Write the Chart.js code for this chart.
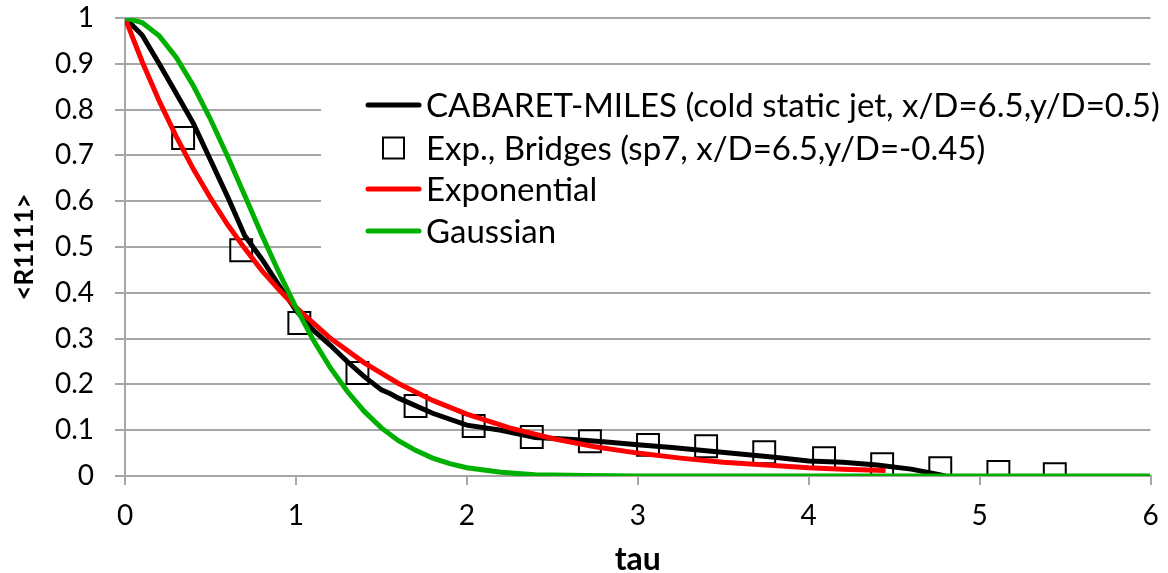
<!DOCTYPE html>
<html>
<head>
<meta charset="utf-8">
<script src="https://cdn.jsdelivr.net/npm/chart.js@4/dist/chart.umd.min.js"></script>
<style>
html,body{margin:0;padding:0;background:#fff;}
#wrap{width:1168px;height:573px;position:relative;}
</style>
</head>
<body>
<div id="wrap"><canvas id="c" width="1168" height="573"></canvas></div>
<script>
// ---- data ----
const seriesNames = [
  "CABARET-MILES (cold static jet, x/D=6.5,y/D=0.5)",
  "Exp., Bridges (sp7, x/D=6.5,y/D=-0.45)",
  "Exponential",
  "Gaussian"
];
const cabaretTau = [0,0.1,0.2,0.3,0.4,0.5,0.6,0.7,0.8,0.9,1.0,1.1,1.2,1.3,1.4,1.5,1.55,1.6,1.8,2.0,2.2,2.4,2.6,2.8,3.0,3.2,3.4,3.6,3.8,4.0,4.2,4.4,4.6,4.75,4.8];
const cabaretVal = [1,0.963,0.900,0.835,0.77,0.69,0.61,0.525,0.474,0.417,0.362,0.319,0.286,0.25,0.217,0.188,0.18,0.17,0.137,0.111,0.10,0.084,0.080,0.075,0.068,0.062,0.055,0.048,0.041,0.033,0.030,0.024,0.015,0.004,0];
const expTau = [0.34,0.68,1.02,1.36,1.70,2.04,2.38,2.72,3.06,3.40,3.74,4.09,4.43,4.77,5.11,5.44];
const expVal = [0.738,0.493,0.334,0.225,0.153,0.109,0.085,0.076,0.068,0.065,0.052,0.039,0.026,0.017,0.009,0.004];
const exponTau = [0,0.1,0.2,0.3,0.4,0.5,0.6,0.7,0.8,0.9,1.0,1.2,1.4,1.6,1.8,2.0,2.25,2.5,2.75,3.0,3.25,3.5,3.75,4.0,4.2,4.45];
const exponVal = [1,0.905,0.819,0.741,0.670,0.607,0.549,0.497,0.449,0.407,0.368,0.301,0.247,0.202,0.165,0.135,0.105,0.082,0.064,0.050,0.039,0.030,0.024,0.018,0.015,0.012];
const gaussTau = [0,0.1,0.2,0.3,0.4,0.5,0.6,0.7,0.8,0.9,1.0,1.1,1.2,1.3,1.4,1.5,1.6,1.7,1.8,1.9,2.0,2.2,2.4,2.7,3.0,4.0,5.0,6.0];
const gaussVal = [1,0.990,0.961,0.914,0.852,0.779,0.698,0.613,0.527,0.445,0.368,0.298,0.237,0.185,0.141,0.105,0.077,0.056,0.039,0.027,0.018,0.008,0.003,0.001,0,0,0,0];
const xTicks = [0,1,2,3,4,5,6];
const yTicks = [0,0.1,0.2,0.3,0.4,0.5,0.6,0.7,0.8,0.9,1];
const xTitle = "tau";
const yTitle = "<R1111>";

const toPts = (xs, ys) => xs.map((x, i) => ({x: x, y: ys[i]}));
const FONT = "Lato, 'Open Sans', sans-serif";

const legendPlugin = {
  id: 'insideLegend',
  beforeDatasetsDraw(chart) {
    const ctx = chart.ctx;
    ctx.save();
    ctx.fillStyle = '#ffffff';
    ctx.fillRect(321, 84, 847, 180);
    ctx.restore();
  },
  afterDraw(chart) {
    const ctx = chart.ctx;
    const rows = [105, 148, 189, 231];
    const ds = chart.data.datasets;
    ctx.save();
    ctx.font = "33px " + FONT;
    ctx.textBaseline = 'middle';
    ctx.fillStyle = '#000';
    ds.forEach((d, i) => {
      const y = rows[i];
      if (d.showLine) {
        ctx.strokeStyle = d.borderColor;
        ctx.lineWidth = 5;
        ctx.lineCap = 'round';
        ctx.beginPath();
        ctx.moveTo(368, y);
        ctx.lineTo(419, y);
        ctx.stroke();
      } else {
        ctx.strokeStyle = '#000';
        ctx.lineWidth = 2;
        ctx.strokeRect(383, y - 10.5, 21, 21);
      }
      ctx.fillText(d.label, 426, y + 1);
    });
    ctx.restore();
  }
};

new Chart(document.getElementById('c'), {
  type: 'scatter',
  data: {
    datasets: [
      {label: seriesNames[0], data: toPts(cabaretTau, cabaretVal), showLine: true, borderColor: '#000000', borderWidth: 5, pointRadius: 0, order: 3, tension: 0},
      {label: seriesNames[1], data: toPts(expTau, expVal), showLine: false, pointStyle: 'rect', pointRadius: 15.5, borderColor: '#000000', backgroundColor: 'rgba(0,0,0,0)', pointBorderWidth: 2, order: 2},
      {label: seriesNames[2], data: toPts(exponTau, exponVal), showLine: true, borderColor: '#ff0000', borderWidth: 5, pointRadius: 0, order: 1, tension: 0},
      {label: seriesNames[3], data: toPts(gaussTau, gaussVal), showLine: true, borderColor: '#00b000', borderWidth: 5, pointRadius: 0, order: 0, tension: 0}
    ]
  },
  options: {
    responsive: false,
    animation: false,
    devicePixelRatio: 1,
    layout: {padding: {top: 18, right: 16, left: 0, bottom: -6}},
    plugins: {legend: {display: false}, tooltip: {enabled: false}},
    scales: {
      x: {
        type: 'linear', min: 0, max: 6,
        afterBuildTicks: s => { s.ticks = xTicks.map(v => ({value: v})); },
        afterFit: s => { s.height = 103; s.paddingLeft = 0; s.paddingRight = 0; },
        grid: {drawOnChartArea: false, drawTicks: true, tickLength: 9, color: '#a6a6a6', lineWidth: 2},
        border: {color: '#a6a6a6', width: 2},
        ticks: {color: '#000', font: {family: FONT, size: 28}, padding: 14},
        title: {display: true, text: xTitle, color: '#000', font: {family: FONT, size: 32, weight: 'bold'}, padding: {top: 6, bottom: 0}}
      },
      y: {
        type: 'linear', min: 0, max: 1,
        afterBuildTicks: s => { s.ticks = yTicks.map(v => ({value: v})); },
        afterFit: s => { s.width = 125; s.paddingTop = 0; s.paddingBottom = 0; },
        grid: {color: '#a6a6a6', lineWidth: 2, tickLength: 10, drawTicks: true},
        border: {color: '#a6a6a6', width: 2},
        ticks: {color: '#000', font: {family: FONT, size: 28}, padding: 21, callback: v => String(Math.round(v * 10) / 10)},
        title: {display: true, text: yTitle, color: '#000', font: {family: FONT, size: 26, weight: 'bold'}, padding: {top: 9, bottom: 0}}
      }
    }
  },
  plugins: [legendPlugin]
});
</script>
</body>
</html>
